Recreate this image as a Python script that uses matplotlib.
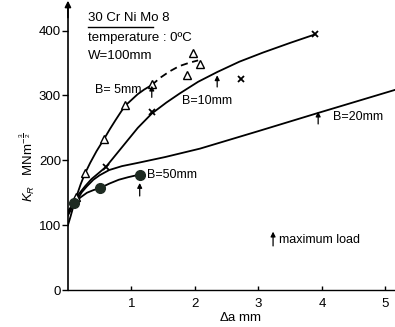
import matplotlib
matplotlib.use("Agg")
import matplotlib.pyplot as plt
from matplotlib.lines import Line2D

plt.rcParams['font.family'] = ['Liberation Sans', 'DejaVu Sans']
plt.rcParams['mathtext.fontset'] = 'custom'
plt.rcParams['mathtext.rm'] = 'Liberation Sans'
plt.rcParams['mathtext.it'] = 'Liberation Sans:italic'

# measured points
b5_x = [0.13, 0.27, 0.57, 0.90, 1.32, 1.97, 2.08, 1.87]
b5_y = [143, 180, 233, 285, 318, 366, 349, 331]
b10_x = [0.60, 1.32, 2.73, 3.89]
b10_y = [189, 274, 325, 394]
b50_x = [0.10, 0.50, 1.13]
b50_y = [134, 157, 178]

# fitted curves as drawn
b5_curve_x = [0.0, 0.04, 0.08, 0.13, 0.20, 0.27, 0.35, 0.45, 0.57, 0.66, 0.75, 0.83, 0.90, 1.00, 1.10, 1.20, 1.32]
b5_curve_y = [100, 113, 127, 143, 163, 180, 196, 214, 233, 248, 262, 274, 284, 293, 302, 309, 316]
b5_dash_x = [1.32, 1.45, 1.60, 1.75, 1.90, 2.05]
b5_dash_y = [316, 327, 337, 345, 350, 354]
b10_curve_x = [0.0, 0.05, 0.10, 0.18, 0.27, 0.37, 0.48, 0.60, 0.75, 0.90, 1.10, 1.32, 1.55, 1.76, 2.05, 2.35, 2.70, 3.07, 3.50, 3.89]
b10_curve_y = [118, 128, 137, 149, 160, 171, 180, 190, 208, 226, 250, 272, 289, 303, 321, 336, 352, 366, 381, 394]
b20_curve_x = [0.0, 0.07, 0.15, 0.22, 0.30, 0.40, 0.50, 0.65, 0.85, 1.10, 1.53, 2.08, 3.00, 3.94, 5.20]
b20_curve_y = [115, 128, 140, 151, 160, 170, 177, 185, 191, 196, 205, 218, 245, 273, 310]
b50_curve_x = [0.0, 0.05, 0.10, 0.20, 0.30, 0.40, 0.50, 0.65, 0.80, 0.95, 1.13]
b50_curve_y = [122, 128, 134, 143, 150, 154, 157, 164, 170, 174, 178]

# maximum load arrows (x, y tail, y head)
arrow_x = [1.32, 2.35, 3.94, 1.13]
arrow_y0 = [297, 313, 256, 145]
arrow_y1 = [315, 331, 275, 165]

fig = plt.figure(figsize=(3.95, 3.27), dpi=100)
ax = fig.add_axes([0.172, 0.113, 0.828, 0.873])
ax.set_xlim(0, 5.15)
ax.set_ylim(0, 440)

lw = 1.3
ax.plot(b5_curve_x, b5_curve_y, color='black', lw=lw)
ax.plot(b5_dash_x, b5_dash_y, color='black', lw=lw, ls=(0, (4, 2.5)))
ax.plot(b10_curve_x, b10_curve_y, color='black', lw=lw)
ax.plot(b20_curve_x, b20_curve_y, color='black', lw=lw)
ax.plot(b50_curve_x, b50_curve_y, color='black', lw=lw)

ax.plot(b5_x, b5_y, ls='none', marker='^', ms=6, mfc='white', mec='black', mew=1)
ax.plot(b10_x, b10_y, ls='none', marker='x', ms=5, mec='black', mew=1.3)
ax.plot(b50_x, b50_y, ls='none', marker='o', ms=7, mfc='#1e2b22', mec='#1e2b22')

aprops = dict(arrowstyle='-|>', color='black', lw=0.9, mutation_scale=7, shrinkA=0, shrinkB=0)
for x, y0, y1 in zip(arrow_x, arrow_y0, arrow_y1):
    ax.annotate('', xy=(x, y1), xytext=(x, y0), arrowprops=aprops)
ax.annotate('', xy=(3.23, 90), xytext=(3.23, 68), arrowprops=aprops)
ax.text(3.32, 77, 'maximum load', fontsize=9, va='center')

ax.text(0.43, 308, 'B= 5mm', fontsize=9, va='center')
ax.text(1.80, 292, 'B=10mm', fontsize=9, va='center')
ax.text(4.17, 266, 'B=20mm', fontsize=9, va='center')
ax.text(1.25, 178, 'B=50mm', fontsize=9, va='center')

ax.text(0.31, 420, '30 Cr Ni Mo 8', fontsize=9.5, va='center')
ax.add_line(Line2D([0.31, 1.34], [406, 406], color='black', lw=1))
ax.text(0.31, 389, 'temperature : 0ºC', fontsize=9.5, va='center')
ax.text(0.31, 360, 'W=100mm', fontsize=9.5, va='center')

ax.set_xticks([1, 2, 3, 4, 5])
ax.set_yticks([0, 100, 200, 300, 400])
ax.tick_params(axis='y', direction='out', length=4, width=1, labelsize=9.5, pad=1)
ax.tick_params(axis='x', direction='in', length=3, width=1, labelsize=9.5, pad=6)
for s in ['top', 'right']:
    ax.spines[s].set_visible(False)
ax.spines['left'].set_linewidth(1.2)
ax.spines['bottom'].set_linewidth(1)
ax.annotate('', xy=(0, 446), xytext=(0, 420), xycoords='data',
            arrowprops=dict(arrowstyle='-|>', color='black', lw=1.2, mutation_scale=9,
                            shrinkA=0, shrinkB=0),
            annotation_clip=False)

fig.text(0.07, 0.49, r'$K_R$   MNm$^{-\frac{3}{2}}$', rotation=90, fontsize=9.5,
         ha='center', va='center')
fig.text(0.61, 0.03, r'$\Delta$a mm', fontsize=9.5, ha='center', va='center')

fig.savefig('out.png', dpi=100)
